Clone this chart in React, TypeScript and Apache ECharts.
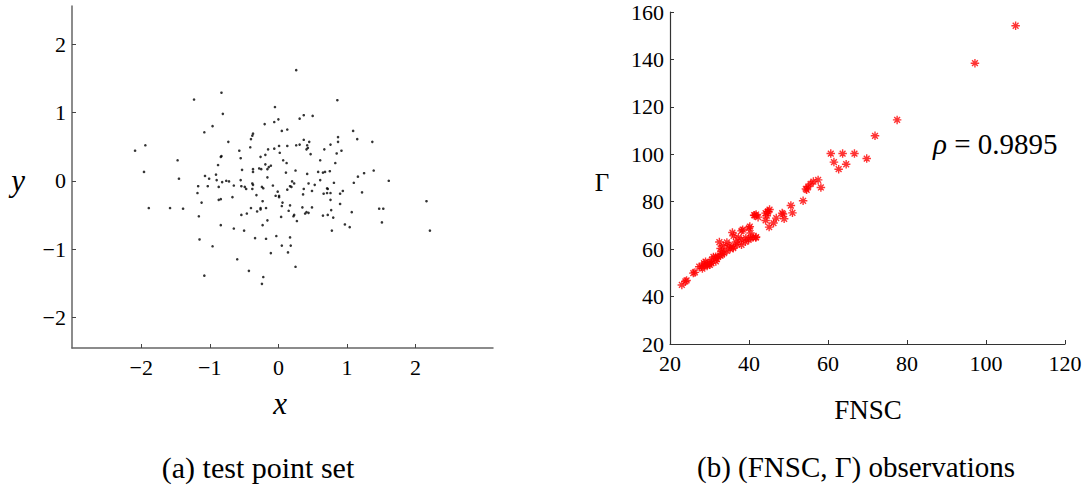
import React, { useEffect, useRef } from "react";
import * as echarts from "echarts";

// (a) test point set: [x, y]
const testPoints: [number, number][] = [
  [-0.83, 1.29], [-1.23, 1.19], [-0.81, 0.98], [-0.05, 1.08], [0.0, 0.9], [-0.06, 0.86], [-0.2, 0.83], [-0.96, 0.8],
  [-1.08, 0.71], [0.05, 0.73], [-0.37, 0.69], [-0.38, 0.66], [-0.4, 0.61], [-0.73, 0.57], [-1.94, 0.52], [-2.09, 0.44],
  [0.01, 0.51], [-0.06, 0.47], [-0.15, 0.46], [-0.41, 0.49], [-0.57, 0.44], [0.02, 0.41], [-0.83, 0.36], [-0.84, 0.35],
  [-0.26, 0.35], [-0.19, 0.38], [-0.55, 0.33], [0.07, 0.3], [-1.47, 0.3], [-0.88, 0.23], [-0.19, 0.24], [-0.11, 0.22],
  [-0.14, 0.2], [-0.16, 0.17], [-0.28, 0.18], [-0.25, 0.17], [-0.37, 0.17], [-0.37, 0.13], [-0.53, 0.16], [-1.96, 0.13],
  [-0.91, 0.09], [-1.07, 0.07], [-1.01, 0.03], [-1.45, 0.03], [-0.16, 0.05], [-0.9, 0.01], [-0.82, -0.02], [-0.76, 0.0],
  [-0.72, -0.01], [-0.55, 0.01], [-0.38, -0.04],
  [-1.17, -0.08], [-1.03, -0.08], [-0.87, -0.09], [-0.65, -0.07], [-0.54, -0.08], [-0.49, -0.09], [-0.47, -0.12],
  [-0.38, -0.12], [-0.37, -0.06], [-0.24, -0.09], [-0.22, -0.11], [-0.08, -0.07], [-1.18, -0.18], [-0.32, -0.21],
  [-0.67, -0.24], [-0.87, -0.28], [-0.84, -0.27], [-1.12, -0.32], [-0.23, -0.3], [-0.01, -0.16], [-0.04, -0.22],
  [0.01, -0.22], [0.01, -0.24], [0.06, -0.32], [0.05, -0.37], [-1.89, -0.4], [-1.58, -0.4], [-1.39, -0.41], [-0.4, -0.4],
  [-0.26, -0.4], [-0.26, -0.42], [-0.18, -0.4], [-0.31, -0.45], [-0.46, -0.48], [-0.54, -0.5], [-1.16, -0.52],
  [0.04, -0.53], [-0.16, -0.58], [-0.84, -0.65], [-0.23, -0.65], [-0.65, -0.7], [-0.5, -0.73], [-0.03, -0.81],
  [-1.15, -0.86], [-0.34, -0.84], [-0.18, -0.85], [-0.96, -0.96], [0.05, -0.95], [-0.11, -1.06], [-0.6, -1.15],
  [-0.43, -1.32], [-1.08, -1.39], [-0.22, -1.41], [-0.24, -1.51],
  [0.26, 1.62], [0.86, 1.18], [0.37, 0.96], [0.31, 0.91], [0.5, 0.95], [0.13, 0.75], [1.09, 0.73], [1.15, 0.61],
  [1.37, 0.57], [0.87, 0.64], [0.87, 0.57], [0.37, 0.6], [0.45, 0.57], [0.13, 0.51], [0.26, 0.52], [0.31, 0.53],
  [0.42, 0.52], [0.43, 0.48], [0.41, 0.46], [0.67, 0.46], [0.76, 0.53], [0.92, 0.44], [0.85, 0.4], [0.47, 0.39],
  [0.12, 0.26], [0.61, 0.3], [0.83, 0.26], [1.39, 0.15], [0.11, 0.12], [0.25, 0.15], [0.42, 0.1], [0.58, 0.13],
  [0.65, 0.12], [0.68, 0.13], [0.75, 0.14], [1.16, 0.06], [1.25, 0.11], [0.2, -0.01], [0.23, -0.04], [0.44, -0.04],
  [0.53, -0.06], [0.61, 0.01], [0.81, -0.03], [1.1, -0.03], [1.61, 0.0],
  [0.17, -0.08], [0.19, -0.09], [0.13, -0.13], [0.37, -0.12], [0.49, -0.15], [0.71, -0.11], [0.72, -0.12],
  [0.36, -0.2], [0.66, -0.19], [0.71, -0.18], [0.76, -0.18], [0.9, -0.19], [0.94, -0.15], [1.22, -0.17], [0.76, -0.28],
  [0.9, -0.34], [0.17, -0.36], [0.35, -0.39], [0.49, -0.39], [0.15, -0.44], [0.41, -0.46], [0.39, -0.48], [0.44, -0.47],
  [0.23, -0.5], [0.22, -0.52], [0.27, -0.59], [0.65, -0.51], [0.72, -0.5], [0.77, -0.43], [0.8, -0.54], [1.07, -0.46],
  [1.47, -0.41], [1.53, -0.41], [2.16, -0.3], [1.51, -0.61], [0.97, -0.64], [1.04, -0.68], [0.78, -0.73], [2.21, -0.73],
  [0.17, -0.83], [0.18, -0.95], [0.14, -1.05], [0.25, -1.26],
];

// (b) observations: [FNSC, Gamma]
const observations: [number, number][] = [
  [107.5, 154.2], [97.2, 138.4], [77.5, 114.5], [71.9, 107.8], [60.7, 100.3], [63.7, 100.3], [66.7, 100.3], [69.8, 98.2],
  [61.5, 96.7], [64.6, 95.8], [62.7, 93.7], [57.5, 89.2], [56.3, 88.5], [55.6, 87.5], [55.0, 86.4], [54.4, 85.4],
  [58.2, 86.0], [53.7, 80.4], [50.6, 78.4], [51.0, 75.3], [48.9, 72.8], [48.4, 75.2], [46.9, 73.1], [46.2, 71.0],
  [45.1, 69.3], [45.2, 76.7], [44.7, 75.7], [44.2, 75.2], [44.5, 74.1], [44.2, 72.1], [42.3, 73.5], [41.3, 74.3],
  [41.8, 74.6], [40.2, 69.5], [38.4, 68.2], [38.1, 67.7], [35.8, 67.0], [36.1, 65.6], [40.4, 66.8], [40.5, 64.9],
  [39.9, 63.9], [41.7, 64.9], [39.2, 64.7], [38.0, 63.9], [37.3, 64.9], [38.1, 61.8], [36.7, 63.0], [36.0, 60.9],
  [35.2, 60.1], [34.4, 62.8], [32.5, 63.0], [33.5, 61.4], [32.8, 60.3], [34.4, 59.3], [33.7, 58.3], [32.8, 57.3],
  [32.1, 56.7], [31.0, 56.7], [30.6, 55.5], [31.6, 54.8], [29.9, 54.3], [29.0, 54.7], [28.8, 53.0], [28.0, 52.7],
  [27.4, 52.6], [29.4, 52.9], [30.1, 53.4], [26.3, 50.2], [25.9, 49.9], [23.9, 46.4], [23.0, 44.9],
  [40.0, 68.9], [44.9, 75.9], [41.5, 74.2], [48.6, 74.8], [54.6, 85.0], [39.1, 63.1], [41.0, 64.9], [41.8, 65.1],
  [36.0, 60.4], [31.6, 56.8], [28.6, 54.1], [30.5, 54.0], [31.8, 56.0], [33.0, 59.0], [35.0, 61.5], [37.0, 62.0],
  [33.2, 57.8], [29.5, 53.5], [24.2, 46.8], [28.2, 51.8],
];

const leftTicks = [-2, -1, 0, 1, 2];
const captionA = "(a) test point set";
const captionB = "(b) (FNSC, Γ) observations";
const rhoText = "0.9895";

const SERIF = "Liberation Serif";
const ASTERISK = "path://M5 0L5 10M0 5L10 5M1.6 1.6L8.4 8.4M1.6 8.4L8.4 1.6";

export default function App() {
  const ref = useRef<HTMLDivElement>(null);
  useEffect(() => {
    if (!ref.current) return;
    const chart = echarts.init(ref.current, undefined, { renderer: "svg" });
    const minus = (v: number) => (v < 0 ? "\u2212" + Math.abs(v) : String(v));
    const labelStyle = { color: "#000", fontFamily: SERIF, fontSize: 22 };
    const txt = (x: number, y: number, text: string, size: number, italic = false) => ({
      type: "text", x, y,
      style: {
        text, fill: "#000", align: "center", verticalAlign: "middle",
        fontFamily: SERIF, fontSize: size, fontStyle: italic ? "italic" : "normal",
      },
    });
    chart.setOption({
      animation: false,
      backgroundColor: "#fff",
      grid: [
        { left: 72, top: 6, width: 421, height: 342 },
        { left: 670, top: 12, width: 395, height: 332 },
      ],
      xAxis: [
        {
          gridIndex: 0, type: "value", min: -3.01, max: 3.13,
          axisLine: { onZero: false, lineStyle: { color: "#666", width: 1.5 } },
          axisTick: { inside: true, length: 4, customValues: leftTicks, lineStyle: { color: "#444" } },
          axisLabel: { ...labelStyle, margin: 8, customValues: leftTicks, formatter: minus },
          splitLine: { show: false },
        },
        {
          gridIndex: 1, type: "value", min: 20, max: 120, interval: 20,
          axisLine: { onZero: false, lineStyle: { color: "#333", width: 1.2 } },
          axisTick: { inside: true, length: 4, lineStyle: { color: "#333" } },
          axisLabel: { ...labelStyle, margin: 8 },
          splitLine: { show: false },
        },
      ],
      yAxis: [
        {
          gridIndex: 0, type: "value", min: -2.45, max: 2.56,
          axisLine: { show: true, onZero: false, lineStyle: { color: "#666", width: 1.5 } },
          axisTick: { show: true, inside: true, length: 4, customValues: leftTicks, lineStyle: { color: "#444" } },
          axisLabel: { ...labelStyle, margin: 6, customValues: leftTicks, formatter: minus },
          splitLine: { show: false },
        },
        {
          gridIndex: 1, type: "value", min: 20, max: 160, interval: 20,
          axisLine: { show: true, onZero: false, lineStyle: { color: "#333", width: 1.2 } },
          axisTick: { show: true, inside: true, length: 4, lineStyle: { color: "#333" } },
          axisLabel: { ...labelStyle, margin: 6 },
          splitLine: { show: false },
        },
      ],
      series: [
        {
          type: "scatter", xAxisIndex: 0, yAxisIndex: 0, data: testPoints,
          symbol: "circle", symbolSize: 2.6, itemStyle: { color: "#000" },
        },
        {
          type: "scatter", xAxisIndex: 1, yAxisIndex: 1, data: observations,
          symbol: ASTERISK, symbolSize: 8.5,
          itemStyle: { color: "rgba(0,0,0,0)", borderColor: "#ff0000", borderWidth: 1.4 },
        },
      ],
      graphic: [
        txt(18, 180, "y", 31, true),
        txt(280, 403, "x", 31, true),
        txt(602, 182, "Γ", 25),
        txt(868, 410, "FNSC", 27),
        {
          type: "text", x: 933, y: 144,
          style: {
            text: "{i|ρ} = " + rhoText, fill: "#000", align: "left", verticalAlign: "middle",
            fontFamily: SERIF, fontSize: 29,
            rich: { i: { fontStyle: "italic", fontSize: 29, fontFamily: SERIF } },
          },
        },
        txt(258, 467, captionA, 30),
        txt(856, 467, captionB, 29),
      ],
    });
    return () => chart.dispose();
  }, []);
  return <div ref={ref} style={{ position: "absolute", left: 0, top: 0, width: 1089, height: 496 }} />;
}
